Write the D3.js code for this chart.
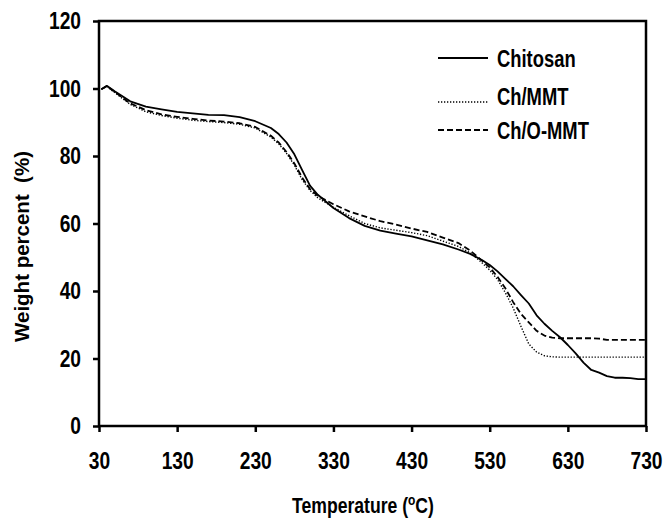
<!DOCTYPE html>
<html>
<head>
<meta charset="utf-8">
<script src="https://cdn.jsdelivr.net/npm/d3@7/dist/d3.min.js"></script>
<style>
  html, body { margin: 0; padding: 0; background: #fff; }
  svg { display: block; }
  .narrow { font-family: "Liberation Sans Narrow", "Arial Narrow", "Liberation Sans", Arial, sans-serif; font-weight: bold; }
</style>
</head>
<body>
<svg id="chart" width="665" height="522"></svg>
<script>
// ---- data ----
const temperature = [33, 40, 50, 70, 90, 110, 130, 150, 170, 190, 210, 230, 250, 260, 270, 280, 290, 300, 310,
  330, 350, 370, 390, 410, 430, 450, 470, 490, 505, 520, 530, 540, 550, 560, 570, 580, 590, 600, 610, 620,
  630, 640, 650, 660, 670, 680, 690, 700, 710, 720, 730];

const chitosan = [99.8, 100.8, 99.2, 96.2, 94.6, 93.8, 93.1, 92.6, 92.2, 92.1, 91.5, 90.3, 88.3, 86.5, 84.0, 80.5, 75.8, 71.2, 68.5,
  64.6, 61.6, 59.3, 57.9, 57.0, 56.2, 55.0, 53.8, 52.3, 51.0, 49.2, 47.7, 45.8, 43.6, 41.4, 38.8, 36.3, 32.8, 30.3, 28.2, 26.3,
  24.0, 21.5, 18.8, 16.6, 15.8, 14.8, 14.3, 14.3, 14.2, 13.9, 13.9];

const chMMT = [99.8, 100.6, 98.8, 95.3, 93.1, 92.0, 91.2, 90.6, 90.2, 89.9, 89.4, 88.3, 85.6, 83.6, 80.8, 77.3, 73.0, 69.8, 67.6,
  64.8, 62.3, 60.0, 58.7, 58.0, 57.3, 56.4, 54.8, 53.2, 51.3, 48.4, 46.2, 43.4, 39.5, 35.0, 29.5, 24.3, 21.9, 20.8, 20.5, 20.4,
  20.4, 20.4, 20.4, 20.4, 20.4, 20.4, 20.4, 20.4, 20.4, 20.4, 20.4];

const chOMMT = [99.8, 100.7, 99.0, 95.6, 93.6, 92.3, 91.6, 91.0, 90.5, 90.2, 89.7, 88.6, 86.0, 84.0, 81.2, 77.8, 73.6, 70.2, 68.2,
  65.7, 63.6, 62.1, 60.7, 59.7, 58.5, 57.5, 55.8, 54.2, 52.0, 49.0, 47.0, 44.2, 40.8, 36.7, 33.2, 30.7, 28.2, 26.8, 26.2, 26.0,
  26.0, 26.0, 26.0, 26.0, 25.9, 25.5, 25.5, 25.5, 25.5, 25.5, 25.5];

const seriesNames = ["Chitosan", "Ch/MMT", "Ch/O-MMT"];
const xTicks = [30, 130, 230, 330, 430, 530, 630, 730];
const yTicks = [0, 20, 40, 60, 80, 100, 120];

// ---- layout ----
const svg = d3.select("#chart");
const mLeft = 99, mRight = 646, mTop = 21, mBottom = 426;
const squeeze = 0.8;

const x = d3.scaleLinear().domain([30, 730]).range([mLeft, mRight]);
const y = d3.scaleLinear().domain([0, 120]).range([mBottom, mTop]);

const seriesData = [chitosan, chMMT, chOMMT];
const styles = [
  { width: 1.8, dash: null },
  { width: 1.4, dash: "1.3,1.7" },
  { width: 1.8, dash: "6,3" }
];

const line = d3.line()
  .x((d, i) => x(temperature[i]))
  .y(d => y(d));

seriesData.forEach((s, k) => {
  svg.append("path")
    .datum(s)
    .attr("d", line)
    .attr("fill", "none")
    .attr("stroke", "#000")
    .attr("stroke-width", styles[k].width)
    .attr("stroke-dasharray", styles[k].dash)
    .attr("stroke-linejoin", "round");
});

// frame
svg.append("rect")
  .attr("x", mLeft).attr("y", mTop)
  .attr("width", mRight - mLeft).attr("height", mBottom - mTop)
  .attr("fill", "none").attr("stroke", "#000").attr("stroke-width", 2.5);

// axes
const xAxis = svg.append("g").attr("transform", `translate(0,${mBottom})`)
  .call(d3.axisBottom(x).tickValues(xTicks).tickSize(6).tickPadding(20).tickFormat(d3.format("d")));
const yAxis = svg.append("g").attr("transform", `translate(${mLeft},0)`)
  .call(d3.axisLeft(y).tickValues(yTicks).tickSize(6).tickPadding(12).tickFormat(d3.format("d")));

[xAxis, yAxis].forEach(a => {
  a.select(".domain").remove();
  a.selectAll(".tick line").attr("stroke", "#000").attr("stroke-width", 2.5);
  a.selectAll(".tick text").attr("class", "narrow").attr("font-size", 24).attr("fill", "#000");
});
xAxis.selectAll(".tick text").attr("dy", "0.71em");

// axis titles
const xt = svg.append("text")
  .attr("class", "narrow")
  .attr("x", 363).attr("y", 513)
  .attr("text-anchor", "middle")
  .attr("font-size", 22)
  .attr("fill", "#000");
xt.append("tspan").text("Temperature (");
xt.append("tspan").attr("font-size", 15).attr("dy", -8).text("o");
xt.append("tspan").attr("dy", 8).text("C)");

svg.append("text")
  .attr("transform", `translate(29,${(mTop + mBottom) / 2 + 23}) rotate(-90)`)
  .attr("text-anchor", "middle")
  .attr("font-family", "'Liberation Sans', Arial, sans-serif")
  .attr("font-weight", "bold")
  .attr("font-size", 20.5)
  .attr("fill", "#000")
  .attr("xml:space", "preserve")
  .text("Weight percent  (%)");

// legend
const legLineY = [58, 102, 130];
const legTextY = [59, 97, 131];
seriesNames.forEach((name, k) => {
  svg.append("line")
    .attr("x1", 438).attr("x2", 488)
    .attr("y1", legLineY[k]).attr("y2", legLineY[k])
    .attr("stroke", "#000")
    .attr("stroke-width", styles[k].width)
    .attr("stroke-dasharray", styles[k].dash);
  svg.append("text")
    .attr("class", "narrow")
    .attr("x", 497).attr("y", legTextY[k])
    .attr("dy", "0.36em")
    .attr("font-size", 23)
    .attr("fill", "#000")
    .text(name);
});

// condense the bold text horizontally (narrow-face look): move the anchor into a transform and scale x
svg.selectAll("text.narrow").each(function () {
  const t = d3.select(this);
  const tx = +t.attr("x") || 0, ty = +t.attr("y") || 0;
  t.attr("x", 0).attr("y", 0)
   .attr("transform", `translate(${tx},${ty}) scale(${squeeze},1)`);
});
</script>
</body>
</html>
